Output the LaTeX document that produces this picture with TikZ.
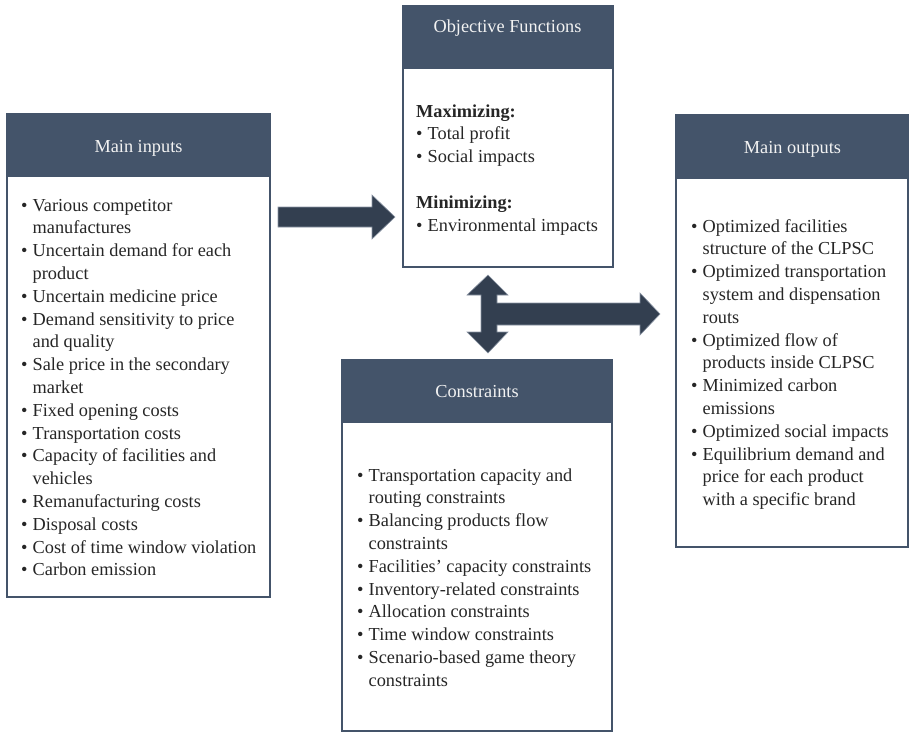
\documentclass[tikz,border=0pt]{standalone}
\usepackage{fontspec}
\setmainfont{Liberation Serif}
\definecolor{hdr}{HTML}{44546A}
\definecolor{arrowfill}{HTML}{333F50}
\definecolor{arrowline}{HTML}{8A94A3}
\definecolor{txt}{HTML}{262626}
\newlength{\bw}\setlength{\bw}{11.5pt}
\newcommand{\bul}{\makebox[\bw][l]{•}}
\newcommand{\cont}{\hspace*{\bw}}
\newcommand{\lst}[2]{\parbox[t]{#1}{\fontsize{18.3}{22.8}\selectfont\raggedright #2}}
\tikzset{
  boxbody/.style={draw=hdr, line width=1.2pt, fill=white, inner sep=0, outer sep=0, anchor=north west},
  boxhead/.style={draw=hdr, line width=1.2pt, fill=hdr, inner sep=0, outer sep=0, anchor=north west},
  headtext/.style={anchor=base, inner sep=0, text=white!95!black, font=\fontsize{18.3}{22}\selectfont},
  bodytext/.style={anchor=base west, inner sep=0, text=txt},
  blockarrow/.style={fill=arrowfill, draw=arrowline, line width=0.6pt, line join=miter}
}
\begin{document}
\begin{tikzpicture}[x=1pt,y=-1pt]
\useasboundingbox (0,0) rectangle (909,732);

% Main inputs
\node[boxbody, minimum width=263pt, minimum height=483pt] (inputs) at (7,114) {};
\node[boxhead, minimum width=263pt, minimum height=62pt] (inputsH) at (7,114) {};
\node[headtext] (inputsL) at (138.5,152) {Main inputs};
\node[bodytext] (inputsT) at (21,211) {\lst{248pt}{%
\bul Various competitor\\
\cont manufactures\\
\bul Uncertain demand for each\\
\cont product\\
\bul Uncertain medicine price\\
\bul Demand sensitivity to price\\
\cont and quality\\
\bul Sale price in the secondary\\
\cont market\\
\bul Fixed opening costs\\
\bul Transportation costs\\
\bul Capacity of facilities and\\
\cont vehicles\\
\bul Remanufacturing costs\\
\bul Disposal costs\\
\bul Cost of time window violation\\
\bul Carbon emission}};

% Objective functions
\node[boxbody, minimum width=210pt, minimum height=261pt] (obj) at (403,6) {};
\node[boxhead, minimum width=210pt, minimum height=62pt] (objH) at (403,6) {};
\node[headtext] (objL) at (507.5,32) {Objective Functions};
\node[bodytext] (objT) at (416,117) {\lst{195pt}{%
\textbf{Maximizing:}\\
\bul Total profit\\
\bul Social impacts\\[22.8pt]
\textbf{Minimizing:}\\
\bul Environmental impacts}};

% Main outputs
\node[boxbody, minimum width=232pt, minimum height=432pt] (outputs) at (676,115) {};
\node[boxhead, minimum width=232pt, minimum height=63pt] (outputsH) at (676,115) {};
\node[headtext] (outputsL) at (792.5,153) {Main outputs};
\node[bodytext] (outputsT) at (691,232) {\lst{215pt}{%
\bul Optimized facilities\\
\cont structure of the CLPSC\\
\bul Optimized transportation\\
\cont system and dispensation\\
\cont routs\\
\bul Optimized flow of\\
\cont products inside CLPSC\\
\bul Minimized carbon\\
\cont emissions\\
\bul Optimized social impacts\\
\bul Equilibrium demand and\\
\cont price for each product\\
\cont with a specific brand}};

% Constraints
\node[boxbody, minimum width=270pt, minimum height=371pt] (cons) at (342,360) {};
\node[boxhead, minimum width=270pt, minimum height=62pt] (consH) at (342,360) {};
\node[headtext] (consL) at (477,397) {Constraints};
\node[bodytext] (consT) at (357,481) {\lst{250pt}{%
\bul Transportation capacity and\\
\cont routing constraints\\
\bul Balancing products flow\\
\cont constraints\\
\bul Facilities' capacity constraints\\
\bul Inventory-related constraints\\
\bul Allocation constraints\\
\bul Time window constraints\\
\bul Scenario-based game theory\\
\cont constraints}};

% Block arrow: inputs -> objective
\path[blockarrow] (278,207) -- (372,207) -- (372,195) -- (395,217) -- (372,239)
  -- (372,227) -- (278,227) -- cycle;

% Cross arrow: objective <-> constraints, -> outputs
\path[blockarrow] (488,275) -- (508,295) -- (497,295) -- (497,303) -- (640,303)
  -- (640,293) -- (660,314) -- (640,335) -- (640,325) -- (497,325) -- (497,332)
  -- (508,332) -- (488,353) -- (467,332) -- (481,332) -- (481,295) -- (467,295) -- cycle;
\end{tikzpicture}
\end{document}
